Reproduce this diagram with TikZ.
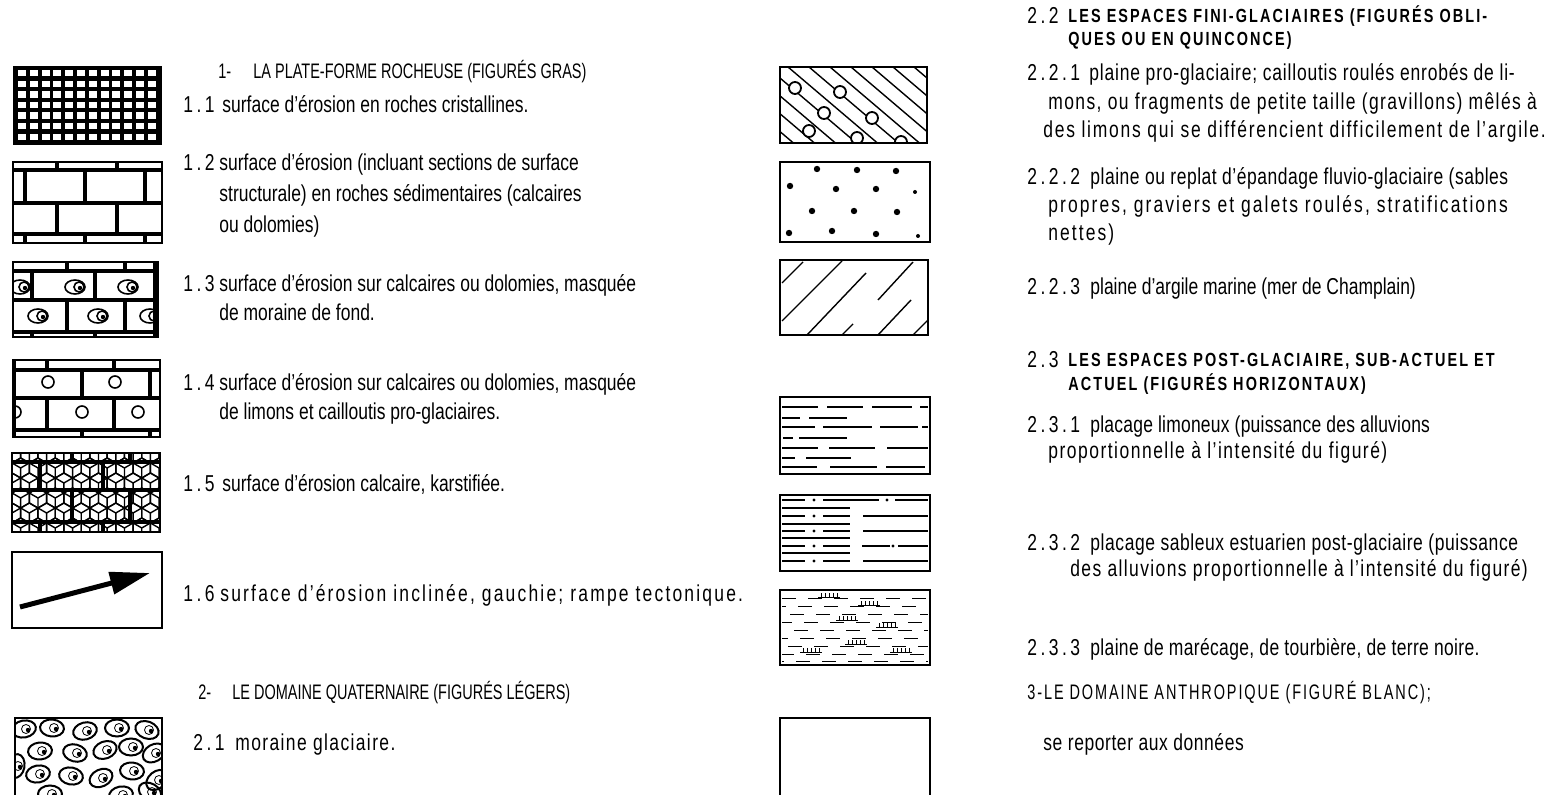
\documentclass[tikz,border=0pt]{standalone}
\usepackage{fontspec}
\setmainfont{Liberation Sans}[FakeStretch=0.76]
\newfontfamily\capsfont{Liberation Sans}[FakeStretch=0.69]
\usetikzlibrary{arrows.meta}

\newcommand{\txt}{\fontsize{11.5}{14.5}\selectfont}
\newcommand{\hdr}{\capsfont\fontsize{10.5}{12}\selectfont}
\newcommand{\hdrb}{\fontsize{9.5}{11.5}\selectfont\bfseries\addfontfeature{LetterSpace=11}}
\newcommand{\wide}[1][6]{\addfontfeature{LetterSpace=#1}}

\begin{document}
\begin{tikzpicture}[x=0.5pt,y=-0.5pt,
  box/.style={line width=1pt},
  mortar/.style={line width=2pt},
  hatch/.style={line width=0.7pt},
  dashln/.style={line width=1pt},
  lbl/.style={anchor=base west,inner sep=0pt,font=\txt},
  rlbl/.style={anchor=base west,inner sep=0pt,font={\txt\wide[1.5]}},
  num/.style={anchor=base west,inner sep=0pt,font={\txt\wide[15]}},
  head/.style={anchor=base west,inner sep=0pt,font=\hdr},
  headb/.style={anchor=base west,inner sep=0pt,font=\hdrb}]
\useasboundingbox (0,0) rectangle (1552,795);
\fill[white] (0,0) rectangle (1552,795);

% 1.1 roches cristallines
\fill (13,66) rectangle (162,145);
\foreach \i in {0,...,11} \foreach \j in {0,...,6}
  \fill[white] ({18+\i*11.8},{70+\j*10.6}) rectangle +(8,6.4);

% 1.2 roches sedimentaires
\draw[box] (13,162) rectangle (162,243);
\draw[mortar] (13,170) -- (162,170) (13,203) -- (162,203) (13,234) -- (162,234);
\foreach \x in {25,85,145} \draw[mortar] (\x,170) -- (\x,203) (\x,234) -- (\x,243);
\foreach \x in {57,117} \draw[mortar] (\x,162) -- (\x,170) (\x,203) -- (\x,234);

% 1.3 moraine de fond
\begin{scope}
  \clip (13,262) rectangle (158,337);
  \foreach \x/\y in {20/287,75/287,128/287,38/316,98/316,150/316} {
    \draw[thick] (\x,\y) ellipse (10 and 7);
    \draw[thick] (\x+4,\y) circle (5);
    \fill (\x+5,\y+1) circle (2.2);
  }
\end{scope}
\draw[box] (13,262) rectangle (158,337);
\draw[mortar] (13,271) -- (158,271) (13,300) -- (158,300) (13,332) -- (158,332) (155,262) -- (155,337);
\foreach \x in {67,125} \draw[mortar] (\x,262) -- (\x,271) (\x,300) -- (\x,332);
\foreach \x in {32,95} \draw[mortar] (\x,271) -- (\x,300) (\x,332) -- (\x,337);

% 1.4 limons et cailloutis
\begin{scope}
  \clip (13,360) rectangle (160,437);
  \foreach \x/\y in {48/382,115/382,15/412,82/412,138/412}
    \draw[thick] (\x,\y) circle (6);
\end{scope}
\draw[box] (13,360) rectangle (160,437);
\draw[mortar] (13,370) -- (160,370) (13,398) -- (160,398) (13,430) -- (160,430) (14,360) -- (14,437);
\foreach \x in {47,114} \draw[mortar] (\x,360) -- (\x,370) (\x,398) -- (\x,430);
\foreach \x in {82,150} \draw[mortar] (\x,370) -- (\x,398) (\x,430) -- (\x,437);

% 1.5 karst
\begin{scope}
  \clip (12,453) rectangle (160,532);
  \foreach \j in {0,...,6} \foreach \i in {0,...,9} {
    \coordinate (c) at ({12+\i*17.3+mod(\j,2)*8.66},{453+\j*15});
    \draw[hatch] (c) +(90:10) -- +(150:10) -- +(210:10) -- +(270:10) -- +(330:10) -- +(30:10) -- cycle;
    \draw[hatch] (c) -- +(90:10) (c) -- +(210:10) (c) -- +(330:10);
  }
\end{scope}
\draw[box] (12,453) rectangle (160,532);
\draw[mortar] (12,462) -- (160,462) (12,490) -- (160,490) (12,522) -- (160,522);
\foreach \x in {72,130} \draw[mortar] (\x,453) -- (\x,462) (\x,490) -- (\x,522);
\foreach \x in {40,103} \draw[mortar] (\x,462) -- (\x,490) (\x,522) -- (\x,532);

% 1.6 rampe
\draw[box] (12,552) rectangle (162,628);
\coordinate (a16s) at (20,607);
\coordinate (a16e) at (150,573);
\draw[line width=2.5pt,-{Triangle[length=20pt,width=11pt]}] (a16s) -- (a16e);

% 2.1 moraine glaciaire
\begin{scope}
  \clip (15,718) rectangle (162,800);
  \foreach \x/\y/\a in {24/729/10,52/728/-5,85/731/15,117/728/0,147/730/-20,
      40/751/5,75/753/-15,105/750/20,131/747/0,154/753/30,
      16/766/80,38/774/10,71/776/-10,101/778/25,132/771/-5,157/780/40,
      50/794/0,121/795/10,150/792/-30} {
    \draw[line width=1pt,rotate around={\a:(\x,\y)}] (\x,\y) ellipse (12 and 8.5);
    \draw (\x+2,\y) circle (4.5);
    \fill (\x+4,\y+1) circle (2.2);
  }
\end{scope}
\draw[box] (15,800) -- (15,718) -- (162,718) -- (162,800);

% 2.2.1 plaine pro-glaciaire
\begin{scope}
  \clip (780,67) rectangle (927,143);
  \foreach \x in {620,641,...,940} \draw[hatch] (\x,67) -- ++(150,127.5);
  \foreach \x/\y in {795/88,840/92,824/113,872/118,809/131,857/138,901/142}
    \draw[line width=0.9pt,fill=white] (\x,\y) circle (6);
\end{scope}
\draw[box] (780,67) rectangle (927,143);

% 2.2.2 epandage fluvio-glaciaire
\draw[box] (780,162) rectangle (930,242);
\foreach \x/\y in {817/169,857/170,896/171,790/186,836/189,876/189,812/211,854/211,897/212,789/233,832/231,876/234}
  \fill (\x,\y) circle (3.2);
\fill (915,192) circle (2);
\fill (918,236) circle (2);

% 2.2.3 argile marine
\draw[box] (780,260) rectangle (928,335);
\draw[hatch] (782,283) -- (803,262) (782,321) -- (842,261) (807,335) -- (866,273) (842,335) -- (853,324)
  (878,335) -- (911,300) (878,300) -- (913,262) (913,335) -- (928,320);

% 2.3.1 placage limoneux
\draw[box] (780,397) rectangle (930,474);
\draw[dashln] (782,407) -- (818,407) (827,407) -- (863,407) (872,407) -- (912,407) (920,407) -- (928,407)
  (782,418) -- (800,418) (809,418) -- (847,418)
  (782,427) -- (815,427) (823,427) -- (872,427) (880,427) -- (918,427) (922,427) -- (928,427)
  (783,438) -- (793,438) (799,438) -- (847,438)
  (782,448) -- (818,448) (829,448) -- (875,448) (887,448) -- (928,448)
  (782,458) -- (795,458) (806,458) -- (851,458)
  (782,467) -- (817,467) (830,467) -- (877,467) (886,467) -- (925,467);

% 2.3.2 placage sableux
\draw[box] (780,495) rectangle (930,571);
\foreach \y in {508,524,538,553} \draw[hatch] (782,\y) -- (850,\y);
\foreach \y in {500,516,531,546,561} {
  \draw[hatch] (782,\y) -- (805,\y) (823,\y) -- (850,\y);
  \fill (814,\y) circle (1.6);
}
\draw[hatch] (850,500) -- (879,500) (895,500) -- (928,500) (862,546) -- (890,546) (898,546) -- (928,546);
\fill (887,500) circle (1.6);
\fill (893,546) circle (1.6);
\foreach \y in {516,531,561} \draw[hatch] (863,\y) -- (928,\y);

% 2.3.3 marecage
\draw[box] (780,590) rectangle (930,665);
\begin{scope}
  \clip (781,591) rectangle (929,664);
  \foreach \y/\o in {598/0pt,606/5pt,614/9pt,622/2pt,630/7pt,638/4pt,646/10pt,654/1pt,661/6pt}
    \draw[line width=0.45pt,dash pattern=on 7pt off 6pt,dash phase=\o] (782,\y) -- (928,\y);
  \foreach \x/\y in {818/598,858/606,836/621,876/628,845/645,890/653,800/653} {
    \draw[line width=0.5pt] (\x,\y) -- +(22,0);
    \foreach \k in {0,...,4} \draw[line width=0.5pt] ({\x+3+\k*4},\y) -- +(0,-5);
  }
\end{scope}

% 3 domaine anthropique
\draw[box] (780,800) -- (780,718) -- (930,718) -- (930,800);

% textes, colonne gauche
\node[head] (h1num) at (218,79) {1-};
\node[head] (h1) at (253,79) {LA PLATE-FORME ROCHEUSE (FIGURÉS GRAS)};
\node[num] (n11) at (183,113) {1.1};
\node[lbl] (t11) at (222,113) {surface d'érosion en roches cristallines.};
\node[num] (n12) at (183,171) {1.2};
\node[lbl,font={\fontsize{11.5}{15.5}\selectfont}] (t12) at (219,171) {\begin{tabular}[t]{@{}l@{}}
  surface d'érosion (incluant sections de surface\\
  structurale) en roches sédimentaires (calcaires\\
  ou dolomies)\end{tabular}};
\node[num] (n13) at (183,292) {1.3};
\node[lbl] (t13) at (219,292) {\begin{tabular}[t]{@{}l@{}}
  surface d'érosion sur calcaires ou dolomies, masquée\\
  de moraine de fond.\end{tabular}};
\node[num] (n14) at (183,391) {1.4};
\node[lbl] (t14) at (219,391) {\begin{tabular}[t]{@{}l@{}}
  surface d'érosion sur calcaires ou dolomies, masquée\\
  de limons et cailloutis pro-glaciaires.\end{tabular}};
\node[num] (n15) at (183,492) {1.5};
\node[lbl] (t15) at (222,492) {surface d'érosion calcaire, karstifiée.};
\node[num] (n16) at (183,602) {1.6};
\node[lbl,font={\txt\wide[9.5]}] (t16) at (220,602) {surface d'érosion inclinée, gauchie; rampe tectonique.};
\node[head] (h2num) at (198,699) {2-};
\node[head] (h2) at (232,699) {LE DOMAINE QUATERNAIRE (FIGURÉS LÉGERS)};
\node[num] (n21) at (193,750) {2.1};
\node[lbl,font={\txt\wide}] (t21) at (235,750) {moraine glaciaire.};

% textes, colonne droite
\node[num] (h22num) at (1027,24) {2.2};
\node[headb] (h22) at (1068,23) {\begin{tabular}[t]{@{}l@{}}
  LES ESPACES FINI-GLACIAIRES (FIGURÉS OBLI-\\
  QUES OU EN QUINCONCE)\end{tabular}};
\node[num] (n221) at (1027,81) {2.2.1};
\node[rlbl,font={\fontsize{11.5}{14.25}\selectfont\wide[3.5]}] (t221) at (1043,81) {\begin{tabular}[t]{@{}l@{}}
  \hspace*{23pt}plaine pro-glaciaire; cailloutis roulés enrobés de  li-\\
  \wide\hspace*{2.5pt}mons, ou fragments de petite taille (gravillons) mêlés à\\
  \wide[7.5]des limons qui se différencient difficilement de l'argile.\end{tabular}};
\node[num] (n222) at (1027,185) {2.2.2};
\node[rlbl,font={\fontsize{11.5}{14}\selectfont\wide[2.3]}] (t222) at (1048,185) {\begin{tabular}[t]{@{}l@{}}
  \hspace*{21pt}plaine ou replat d'épandage fluvio-glaciaire (sables\\
  \wide[9]propres, graviers et galets roulés, stratifications\\
  \wide[9]nettes)\end{tabular}};
\node[num] (n223) at (1027,295) {2.2.3};
\node[lbl] (t223) at (1090,295) {plaine d'argile marine (mer de Champlain)};
\node[num] (h23num) at (1027,368) {2.3};
\node[headb,font={\fontsize{9.5}{10.5}\selectfont\bfseries\wide[11]}] (h23) at (1068,367) {\begin{tabular}[t]{@{}l@{}}
  LES ESPACES POST-GLACIAIRE, SUB-ACTUEL ET\\
  ACTUEL (FIGURÉS HORIZONTAUX)\end{tabular}};
\node[num] (n231) at (1027,433) {2.3.1};
\node[rlbl,font={\fontsize{11.5}{13}\selectfont\wide[1]}] (t231) at (1048,433) {\begin{tabular}[t]{@{}l@{}}
  \hspace*{21pt}placage limoneux (puissance des  alluvions\\
  \wide[6.5]proportionnelle à l'intensité du figuré)\end{tabular}};
\node[num] (n232) at (1027,551) {2.3.2};
\node[rlbl,font={\fontsize{11.5}{13}\selectfont\wide[2.5]}] (t232) at (1070,551) {\begin{tabular}[t]{@{}l@{}}
  \hspace*{10pt}placage sableux estuarien  post-glaciaire (puissance\\
  \wide des alluvions proportionnelle à l'intensité du figuré)\end{tabular}};
\node[num] (n233) at (1027,656) {2.3.3};
\node[rlbl] (t233) at (1090,656) {plaine de marécage, de tourbière, de terre noire.};
\node[head,font={\hdr\wide[9]}] (h3) at (1027,699) {3-LE DOMAINE ANTHROPIQUE (FIGURÉ BLANC);};
\node[rlbl,font={\txt\wide[2.5]}] (t3) at (1043,750) {se reporter aux données};
\end{tikzpicture}
\end{document}
